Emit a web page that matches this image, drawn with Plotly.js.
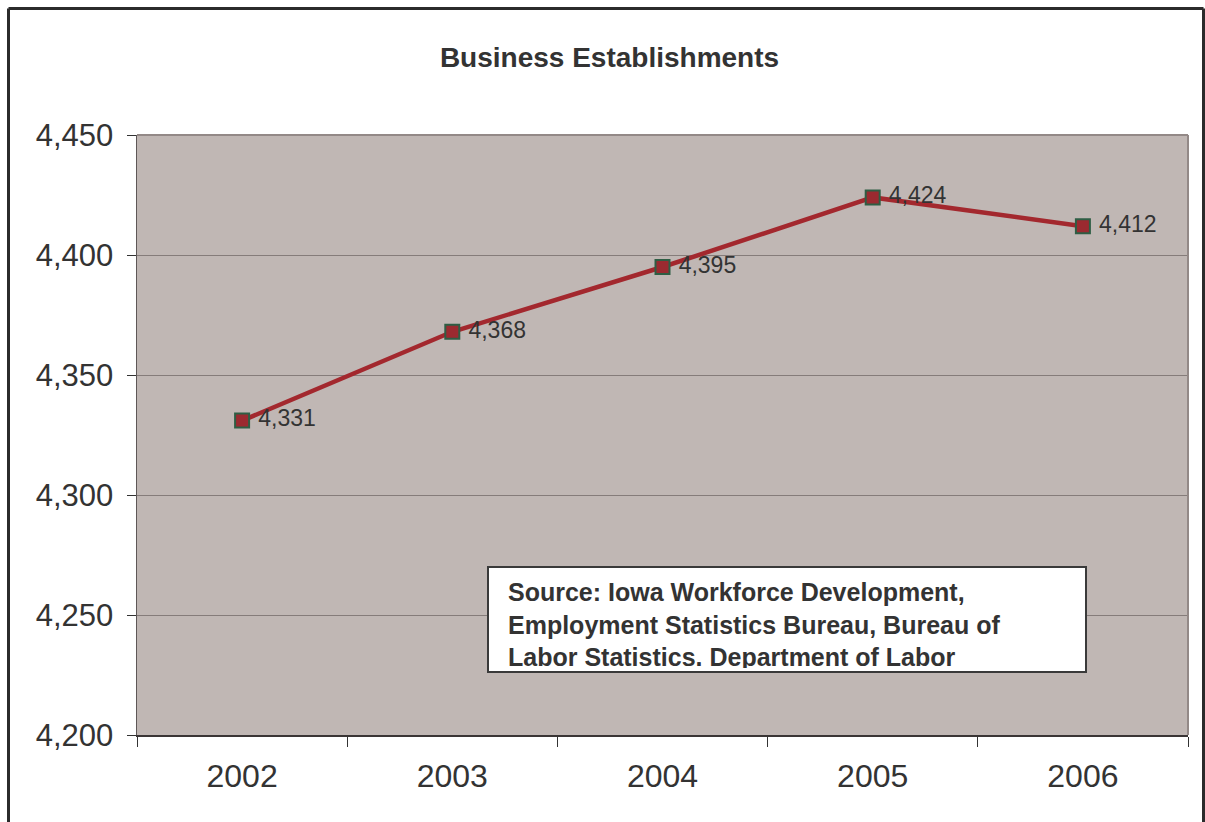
<!DOCTYPE html>
<html>
<head>
<meta charset="utf-8">
<script src="https://cdn.plot.ly/plotly-3.0.1.min.js"></script>
<style>
  html, body { margin: 0; padding: 0; background: #ffffff; }
  #chart { width: 1205px; height: 822px; }
</style>
</head>
<body>
<div id="chart"></div>
<script>
// Data
var years = ['2002', '2003', '2004', '2005', '2006'];
var establishments = [4331, 4368, 4395, 4424, 4412];
var yTickValues = [4200, 4250, 4300, 4350, 4400, 4450];
var chartTitle = 'Business Establishments';
var sourceLines = [
  'Source: Iowa Workforce Development,',
  'Employment Statistics Bureau, Bureau of',
  'Labor Statistics. Department of Labor'
];

var W = 1205, H = 822;
var L = 137, R = 17, T = 135, B = 87;
var pw = W - L - R, ph = H - T - B;
function px2x(p) { return (p - L) / pw; }
function py2y(p) { return (H - B - p) / ph; }

var trace = {
  x: years,
  y: establishments,
  type: 'scatter',
  mode: 'lines+markers+text',
  text: establishments.map(function (v) { return '\u00a0' + v.toLocaleString('en-US'); }),
  textposition: 'middle right',
  textfont: { family: 'Liberation Sans, Arial, sans-serif', size: 23, color: '#333333' },
  line: { color: '#a3282e', width: 4.5 },
  marker: { symbol: 'square', size: 14, color: '#9b2a30', line: { color: '#2e5e44', width: 2 } },
  hoverinfo: 'x+y',
  cliponaxis: false
};

var layout = {
  width: W,
  height: H,
  margin: { l: L, r: R, t: T, b: B, pad: 0 },
  paper_bgcolor: '#ffffff',
  plot_bgcolor: '#c0b7b4',
  showlegend: false,
  font: { family: 'Liberation Sans, Arial, sans-serif', color: '#333333' },
  title: {
    text: '<b>' + chartTitle + '</b>',
    font: { family: 'Liberation Sans, Arial, sans-serif', size: 28, color: '#333333' },
    xref: 'container', yref: 'container',
    x: 609.5 / W, y: 1 - 57 / H,
    xanchor: 'center', yanchor: 'middle'
  },
  xaxis: {
    type: 'category',
    tickson: 'boundaries',
    ticks: 'outside',
    ticklen: 10,
    tickwidth: 1,
    tickcolor: '#333333',
    ticklabelstandoff: 12,
    showgrid: false,
    showline: true,
    linecolor: '#3a3535',
    linewidth: 2,
    tickfont: { size: 32, color: '#333333' },
    range: [-0.5, 4.5],
    fixedrange: true
  },
  yaxis: {
    range: [4200, 4450],
    tickvals: yTickValues,
    tickformat: ',d',
    ticks: 'outside',
    ticklen: 9,
    tickwidth: 1,
    tickcolor: '#333333',
    ticklabelstandoff: 7,
    showgrid: true,
    gridcolor: '#857c7a',
    gridwidth: 1,
    zeroline: false,
    showline: true,
    linecolor: '#5e5757',
    linewidth: 1.5,
    tickfont: { size: 31, color: '#333333' },
    fixedrange: true
  },
  shapes: [
    // plot area top and right edges
    { type: 'line', xref: 'paper', yref: 'paper', x0: 0, x1: 1, y0: 1, y1: 1,
      line: { color: '#938987', width: 2 }, layer: 'above' },
    { type: 'line', xref: 'paper', yref: 'paper', x0: 1, x1: 1, y0: 0, y1: 1,
      line: { color: '#938987', width: 2 }, layer: 'above' },
    // outer frame
    { type: 'line', xref: 'paper', yref: 'paper', x0: px2x(8.5), x1: px2x(1203.5), y0: py2y(8.5), y1: py2y(8.5),
      line: { color: '#2b2b2b', width: 3 }, layer: 'above' },
    { type: 'line', xref: 'paper', yref: 'paper', x0: px2x(8.5), x1: px2x(8.5), y0: py2y(8.5), y1: py2y(900),
      line: { color: '#2b2b2b', width: 3 }, layer: 'above' },
    { type: 'line', xref: 'paper', yref: 'paper', x0: px2x(1203.5), x1: px2x(1203.5), y0: py2y(8.5), y1: py2y(900),
      line: { color: '#2b2b2b', width: 3 }, layer: 'above' },
    // source box
    { type: 'rect', xref: 'paper', yref: 'paper', x0: px2x(488), x1: px2x(1086), y0: py2y(567), y1: py2y(672),
      fillcolor: '#ffffff', line: { color: '#3a3a3a', width: 2 }, layer: 'above' }
  ],
  annotations: [
    {
      xref: 'paper', yref: 'paper',
      x: px2x(508), y: py2y(578),
      xanchor: 'left', yanchor: 'top',
      showarrow: false,
      text: sourceLines.map(function (s) { return '<b>' + s + '</b>'; }).join('<br>'),
      align: 'left',
      valign: 'top',
      width: 570,
      height: 90,
      borderpad: 0,
      borderwidth: 0,
      font: { family: 'Liberation Sans, Arial, sans-serif', size: 25, color: '#333333' }
    }
  ]
};

Plotly.newPlot('chart', [trace], layout, { displayModeBar: false, staticPlot: true });
</script>
</body>
</html>
